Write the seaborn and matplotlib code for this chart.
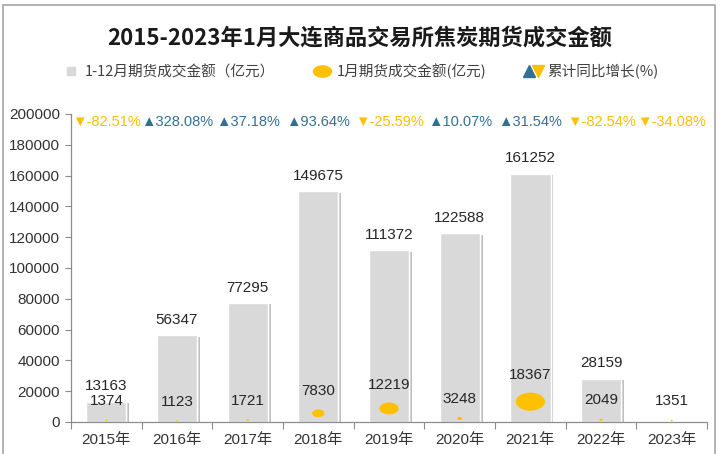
import numpy as np
import pandas as pd
import matplotlib
matplotlib.use("Agg")
import matplotlib.pyplot as plt
import matplotlib.patheffects as pe
from matplotlib.lines import Line2D
from matplotlib.legend_handler import HandlerTuple
from matplotlib.patches import Rectangle
from matplotlib.path import Path
import seaborn as sns

# data
years = ["2015年", "2016年", "2017年", "2018年", "2019年", "2020年", "2021年", "2022年", "2023年"]
total_full_year = [13163, 56347, 77295, 149675, 111372, 122588, 161252, 28159, np.nan]
total_january = [1374, 1123, 1721, 7830, 12219, 3248, 18367, 2049, 1351]
growth_pct = [-82.51, 328.08, 37.18, 93.64, -25.59, 10.07, 31.54, -82.54, -34.08]

BAR_GRAY = "#d9d9d9"
GOLD = "#ffc000"
BLUE = "#336f95"
TEXT = "#262626"
FONTS = ["Liberation Sans", "Noto Sans CJK SC", "DejaVu Sans"]


def coin_marker():
    # flattened blob standing in for the piggy-bank icon
    t = np.linspace(0, 2 * np.pi, 48)
    return Path(np.column_stack([np.cos(t), 0.62 * np.sin(t)]), closed=True)


def main():
    sns.set_theme(style="white")
    plt.rcParams["font.family"] = FONTS

    df = pd.DataFrame({"year": years, "total": total_full_year, "jan": total_january})

    fig = plt.figure(figsize=(7.2, 4.54), dpi=100)
    ax = fig.add_axes([0.0986, 0.0705, 0.8834, 0.6785])

    sns.barplot(data=df.dropna(subset=["total"]), x="year", y="total", order=years,
                color=BAR_GRAY, width=0.57, saturation=1, ax=ax)
    for patch in ax.patches:
        patch.set_path_effects([pe.withSimplePatchShadow(offset=(2, -1), shadow_rgbFace="#8c8c8c", alpha=0.55),
                                pe.Normal()])

    pos = np.arange(len(years))

    # full-year labels above bars
    for x, v in zip(pos, df["total"]):
        if np.isnan(v):
            continue
        ax.annotate(f"{int(v)}", (x, v), xytext=(0, 6), textcoords="offset points",
                    ha="center", va="bottom", fontsize=11, color=TEXT)

    # January markers, size grows with value
    jan = np.array(total_january, dtype=float)
    sizes = (jan / jan.max() * 21) ** 2
    ax.scatter(pos, jan * 0.72, s=sizes, color=GOLD, marker=coin_marker(), zorder=3, linewidths=0)
    for x, v in zip(pos, jan):
        ax.text(x, v + 12000, f"{int(v)}", ha="center", va="center", fontsize=11, color=TEXT, zorder=4)

    # growth row along the top
    trans = ax.get_xaxis_transform()
    for x, g in zip(pos, growth_pct):
        if g >= 0:
            ax.text(x, 0.975, f"▲{g:.2f}%", transform=trans, ha="center", va="center",
                    fontsize=10.5, color=BLUE)
        else:
            ax.text(x, 0.975, f"▼{g:.2f}%", transform=trans, ha="center", va="center",
                    fontsize=10.5, color=GOLD)

    ax.set_xlim(-0.5, len(years) - 0.5)
    ax.set_ylim(0, 200000)
    ax.set_yticks(np.arange(0, 200001, 20000))
    ax.set_xlabel("")
    ax.set_ylabel("")
    ax.tick_params(axis="y", which="major", length=4, width=0.8, color="#8c8c8c",
                   labelsize=11, labelcolor="#333333", left=True, pad=4)
    ax.set_xticks(pos)
    ax.set_xticks(np.arange(-0.5, len(years)), minor=True)
    ax.tick_params(axis="x", which="major", length=0, labelsize=11, labelcolor="#333333", pad=8)
    ax.tick_params(axis="x", which="minor", length=5, width=0.8, color="#8c8c8c", bottom=True)

    for side in ["top", "right"]:
        ax.spines[side].set_visible(False)
    for side in ["left", "bottom"]:
        ax.spines[side].set_color("#8c8c8c")
        ax.spines[side].set_linewidth(0.9)

    fig.text(0.5, 0.916, "2015-2023年1月大连商品交易所焦炭期货成交金额", ha="center", va="center",
             fontsize=16, fontweight="bold", color="#1a1a1a",
             family=["Noto Sans CJK SC", "DejaVu Sans"])

    handles = [
        Line2D([], [], marker="s", linestyle="none", markersize=6, color=BAR_GRAY),
        Line2D([], [], marker=coin_marker(), linestyle="none", markersize=13, color=GOLD),
        (Line2D([], [], marker="^", linestyle="none", markersize=8, color=BLUE),
         Line2D([], [], marker="v", linestyle="none", markersize=8, color=GOLD)),
    ]
    labels = ["1-12月期货成交金额（亿元）", "1月期货成交金额(亿元)", "累计同比增长(%)"]
    leg = fig.legend(handles, labels, loc="center", bbox_to_anchor=(0.5, 0.842), ncol=3,
                     frameon=False, handlelength=1.3, handletextpad=0.3,
                     columnspacing=2.6, handler_map={tuple: HandlerTuple(ndivide=None, pad=0)},
                     prop={"family": ["Noto Sans CJK SC", "DejaVu Sans"], "size": 10.5})
    for t in leg.get_texts():
        t.set_color("#404040")

    fig.patches.append(Rectangle((0.004, -0.1), 0.989, 1.089, transform=fig.transFigure,
                                 fill=False, edgecolor="#a6a6a6", linewidth=1.2))

    fig.savefig("out.png", dpi=100)


if __name__ == "__main__":
    main()
